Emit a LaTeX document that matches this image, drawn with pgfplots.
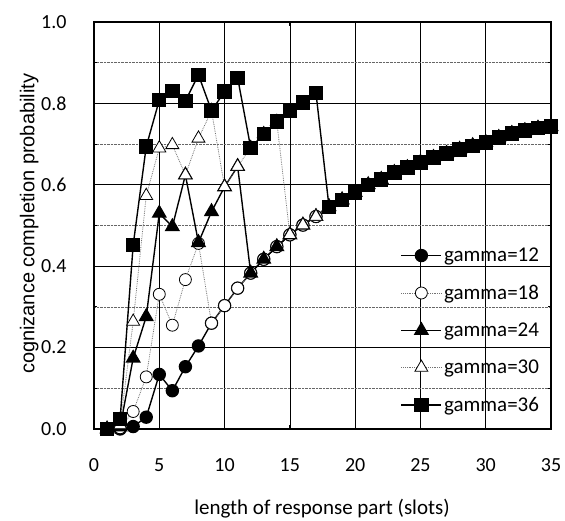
\documentclass[border=0pt]{standalone}
\usepackage{fontspec}
\setmainfont{Carlito}
\newfontfamily\arialfont{Liberation Sans}
\usepackage{pgfplots}
\usepackage{pgfplotstable}
\pgfplotsset{compat=1.18}

\pgfplotstableread{
x  g12   g18   g24   g30   g36
1  0     0     0     0     0
2  0     0.003 0.005 0.010 0.025
3  0.006 0.043 0.174 0.264 0.452
4  0.029 0.128 0.276 0.573 0.694
5  0.134 0.331 0.530 0.690 0.808
6  0.094 0.255 0.497 0.698 0.831
7  0.153 0.367 0.624 0.624 0.806
8  0.204 0.456 0.458 0.714 0.870
9  0.260 0.260 0.534 0.782 0.782
10 0.303 0.303 0.595 0.595 0.829
11 0.346 0.346 0.645 0.645 0.863
12 0.383 0.383 0.383 0.691 0.691
13 0.417 0.417 0.417 0.725 0.725
14 0.448 0.448 0.448 0.755 0.755
15 0.477 0.477 0.477 0.477 0.782
16 0.501 0.501 0.501 0.501 0.802
17 0.522 0.522 0.522 0.522 0.825
18 0.546 0.546 0.546 0.546 0.546
19 0.563 0.563 0.563 0.563 0.563
20 0.581 0.581 0.581 0.581 0.581
21 0.600 0.600 0.600 0.600 0.600
22 0.613 0.613 0.613 0.613 0.613
23 0.630 0.630 0.630 0.630 0.630
24 0.642 0.642 0.642 0.642 0.642
25 0.655 0.655 0.655 0.655 0.655
26 0.667 0.667 0.667 0.667 0.667
27 0.677 0.677 0.677 0.677 0.677
28 0.687 0.687 0.687 0.687 0.687
29 0.696 0.696 0.696 0.696 0.696
30 0.704 0.704 0.704 0.704 0.704
31 0.716 0.716 0.716 0.716 0.716
32 0.726 0.726 0.726 0.726 0.726
33 0.733 0.733 0.733 0.733 0.733
34 0.739 0.739 0.739 0.739 0.739
35 0.743 0.743 0.743 0.743 0.743
}\datatable

\begin{document}
\begin{tikzpicture}
\begin{axis}[
  width=457bp, height=407bp, scale only axis,
  xmin=0, xmax=35, ymin=0, ymax=1,
  clip=false,
  xtick={0,5,10,15,20,25,30,35},
  ytick={0,0.2,0.4,0.6,0.8,1.0},
  minor ytick={0.1,0.3,0.5,0.7,0.9},
  grid=both,
  major grid style={black, line width=0.7pt},
  minor grid style={black!60, densely dotted, line width=0.7pt},
  axis line style={black, line width=1.4pt},
  tick style={black, line width=0.8pt},
  tick align=inside,
  /pgf/number format/assume math mode=true,
  yticklabel style={/pgf/number format/fixed, /pgf/number format/fixed zerofill, /pgf/number format/precision=1, xshift=-24bp},
  xticklabel style={yshift=-26bp},
  ticklabel style={font=\fontsize{20bp}{24bp}\selectfont},
  xlabel={length of response part (slots)},
  ylabel={cognizance completion probability},
  xlabel style={at={(axis description cs:0.499,-0.195)}, anchor=center, font=\fontsize{21bp}{25bp}\selectfont},
  ylabel style={at={(axis description cs:-0.142,0.504)}, anchor=center, rotate=0, font=\arialfont\fontsize{20bp}{24bp}\selectfont},
  legend style={at={(rel axis cs:0.985,0.455)}, anchor=north east, draw=none, fill=none,
    font=\fontsize{21bp}{25bp}\selectfont, row sep=18bp},
  legend cell align=left,
  legend image code/.code={\draw[mark repeat=2, mark phase=2] plot coordinates {(0bp,0bp) (20bp,0bp) (40bp,0bp)};},
]
\addplot[black, line width=1.4pt, mark=*, mark size=6bp, mark options={solid, fill=black}] table[x=x, y=g12] {\datatable};
\addlegendentry{gamma=12}
\addplot[black!55, densely dotted, line width=0.8pt, mark=*, mark size=6bp, mark options={solid, draw=black, fill=white, line width=0.8pt}] table[x=x, y=g18] {\datatable};
\addlegendentry{gamma=18}
\addplot[black, line width=1.4pt, mark=triangle*, mark size=7.5bp, mark options={solid, fill=black}] table[x=x, y=g24] {\datatable};
\addlegendentry{gamma=24}
\addplot[black!55, densely dotted, line width=0.8pt, mark=triangle*, mark size=7.5bp, mark options={solid, draw=black, fill=white, line width=0.8pt}] table[x=x, y=g30] {\datatable};
\addlegendentry{gamma=30}
\addplot[black, line width=1.4pt, mark=square*, mark size=6.5bp, mark options={solid, fill=black}] table[x=x, y=g36] {\datatable};
\addlegendentry{gamma=36}
\coordinate (bbsw) at (rel axis cs:-0.2057,-0.226);
\coordinate (bbne) at (rel axis cs:1.0306,1.054);
\end{axis}
\pgfresetboundingbox
\useasboundingbox (bbsw) rectangle (bbne);
\end{tikzpicture}
\end{document}
